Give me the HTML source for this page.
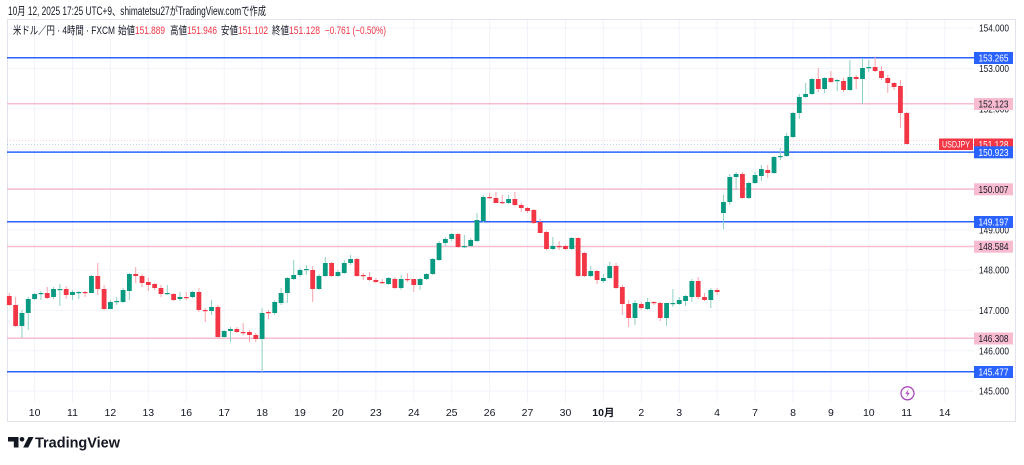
<!DOCTYPE html>
<html>
<head>
<meta charset="utf-8">
<style>
html,body{margin:0;padding:0;background:#fff;}
svg{display:block;}
text{font-family:"Liberation Sans","Noto Sans CJK JP",sans-serif;}
</style>
</head>
<body>
<svg id="c" width="1024" height="465" viewBox="0 0 1024 465" xmlns="http://www.w3.org/2000/svg">
<rect x="0" y="0" width="1024" height="465" fill="#ffffff"/>
<!-- header -->
<text x="8" y="15" font-size="11.5" fill="#131722" textLength="258" lengthAdjust="spacingAndGlyphs">10月 12, 2025 17:25 UTC+9、shimatetsu27がTradingView.comで作成</text>
<!-- frame -->
<rect x="7.5" y="19.5" width="1008" height="402" fill="none" stroke="#e0e3eb" stroke-width="1"/>
<g id="grid" stroke="#f0f3fa" stroke-width="1"></g>
<!-- legend -->
<g font-size="11">
<text x="13" y="34" fill="#131722" textLength="102" lengthAdjust="spacingAndGlyphs">米ドル／円 · 4時間 · FXCM</text>
<text x="118" y="34" fill="#131722" textLength="17" lengthAdjust="spacingAndGlyphs">始値</text>
<text x="135" y="34" fill="#f23645" textLength="30" lengthAdjust="spacingAndGlyphs">151.889</text>
<text x="170" y="34" fill="#131722" textLength="17" lengthAdjust="spacingAndGlyphs">高値</text>
<text x="187" y="34" fill="#f23645" textLength="30" lengthAdjust="spacingAndGlyphs">151.946</text>
<text x="221" y="34" fill="#131722" textLength="17" lengthAdjust="spacingAndGlyphs">安値</text>
<text x="238" y="34" fill="#f23645" textLength="30" lengthAdjust="spacingAndGlyphs">151.102</text>
<text x="272" y="34" fill="#131722" textLength="17" lengthAdjust="spacingAndGlyphs">終値</text>
<text x="289" y="34" fill="#f23645" textLength="31" lengthAdjust="spacingAndGlyphs">151.128</text>
<text x="325" y="34" fill="#f23645" textLength="61" lengthAdjust="spacingAndGlyphs">−0.761 (−0.50%)</text>
</g>
<!-- price axis labels -->
<g font-size="10.2" fill="#131722" text-anchor="middle">
<text x="994" y="31.7" textLength="30" lengthAdjust="spacingAndGlyphs">154.000</text>
<text x="994" y="72.2" textLength="30" lengthAdjust="spacingAndGlyphs">153.000</text>
<text x="994" y="112.5" textLength="30" lengthAdjust="spacingAndGlyphs">152.000</text>
<text x="994" y="152.7" textLength="30" lengthAdjust="spacingAndGlyphs">151.000</text>
<text x="994" y="193.1" textLength="30" lengthAdjust="spacingAndGlyphs">150.000</text>
<text x="994" y="233.4" textLength="30" lengthAdjust="spacingAndGlyphs">149.000</text>
<text x="994" y="273.7" textLength="30" lengthAdjust="spacingAndGlyphs">148.000</text>
<text x="994" y="314" textLength="30" lengthAdjust="spacingAndGlyphs">147.000</text>
<text x="994" y="354.4" textLength="30" lengthAdjust="spacingAndGlyphs">146.000</text>
<text x="994" y="394.7" textLength="30" lengthAdjust="spacingAndGlyphs">145.000</text>
</g>
<!-- time axis labels -->
<g font-size="10.5" fill="#131722" text-anchor="middle">
<text x="34.6" y="416">10</text>
<text x="72.5" y="416">11</text>
<text x="110.4" y="416">12</text>
<text x="148.3" y="416">13</text>
<text x="186.3" y="416">16</text>
<text x="224.2" y="416">17</text>
<text x="262.1" y="416">18</text>
<text x="300.0" y="416">19</text>
<text x="337.9" y="416">20</text>
<text x="375.9" y="416">23</text>
<text x="413.8" y="416">24</text>
<text x="451.7" y="416">25</text>
<text x="489.6" y="416">26</text>
<text x="527.5" y="416">27</text>
<text x="565.5" y="416">30</text>
<text x="603.4" y="416" font-weight="bold">10月</text>
<text x="641.3" y="416">2</text>
<text x="679.2" y="416">3</text>
<text x="717.1" y="416">4</text>
<text x="755.1" y="416">7</text>
<text x="793.0" y="416">8</text>
<text x="830.9" y="416">9</text>
<text x="868.8" y="416">10</text>
<text x="906.7" y="416">11</text>
<text x="944.7" y="416">14</text>
</g>
<!-- horizontal level lines -->
<g stroke-width="1.5">
<line x1="7" y1="57.7" x2="974" y2="57.7" stroke="#2962ff"/>
<line x1="7" y1="103.7" x2="974" y2="103.7" stroke="#f8bbd0"/>
<line x1="7" y1="152.1" x2="974" y2="152.1" stroke="#2962ff"/>
<line x1="7" y1="189.1" x2="974" y2="189.1" stroke="#f8bbd0"/>
<line x1="7" y1="221.8" x2="974" y2="221.8" stroke="#2962ff"/>
<line x1="7" y1="246.5" x2="974" y2="246.5" stroke="#f8bbd0"/>
<line x1="7" y1="338.3" x2="974" y2="338.3" stroke="#f8bbd0"/>
<line x1="7" y1="371.8" x2="974" y2="371.8" stroke="#2962ff"/>
</g>
<line x1="7" y1="140.5" x2="939" y2="140.5" stroke="#f7a1ad" stroke-width="1" stroke-dasharray="1,2" opacity="0.5"/>
<line x1="7" y1="144.5" x2="974" y2="144.5" stroke="#8fa8f5" stroke-width="1" stroke-dasharray="1,2" opacity="0.5"/>
<g id="candles"></g>
<!-- price boxes -->
<g font-size="10.2" text-anchor="middle">
<rect x="974" y="52" width="39" height="12" fill="#2962ff"/><text x="993.5" y="61.5" fill="#fff" textLength="30" lengthAdjust="spacingAndGlyphs">153.265</text>
<rect x="974" y="98" width="39" height="12" fill="#f8bbd0"/><text x="993.5" y="107.5" fill="#131722" textLength="30" lengthAdjust="spacingAndGlyphs">152.123</text>
<rect x="939" y="138.5" width="34" height="11.5" fill="#f23645"/><text x="956" y="147.5" fill="#fff" font-size="9" textLength="28" lengthAdjust="spacingAndGlyphs">USDJPY</text>
<rect x="974" y="138.5" width="39" height="11.5" fill="#f23645"/><text x="993.5" y="147.8" fill="#fff" textLength="30" lengthAdjust="spacingAndGlyphs">151.128</text>
<rect x="974" y="146.3" width="39" height="12" fill="#2962ff"/><text x="993.5" y="155.8" fill="#fff" textLength="30" lengthAdjust="spacingAndGlyphs">150.923</text>
<rect x="974" y="183.3" width="39" height="12" fill="#f8bbd0"/><text x="993.5" y="192.8" fill="#131722" textLength="30" lengthAdjust="spacingAndGlyphs">150.007</text>
<rect x="974" y="216" width="39" height="12" fill="#2962ff"/><text x="993.5" y="225.5" fill="#fff" textLength="30" lengthAdjust="spacingAndGlyphs">149.197</text>
<rect x="974" y="240.7" width="39" height="12" fill="#f8bbd0"/><text x="993.5" y="250.2" fill="#131722" textLength="30" lengthAdjust="spacingAndGlyphs">148.584</text>
<rect x="974" y="332.5" width="39" height="12" fill="#f8bbd0"/><text x="993.5" y="342" fill="#131722" textLength="30" lengthAdjust="spacingAndGlyphs">146.308</text>
<rect x="974" y="366" width="39" height="12" fill="#2962ff"/><text x="993.5" y="375.5" fill="#fff" textLength="30" lengthAdjust="spacingAndGlyphs">145.477</text>
</g>
<!-- lightning icon -->
<circle cx="907.5" cy="393.3" r="6.5" fill="#fff" stroke="#ab47bc" stroke-width="1.3"/>
<path d="M908.8 389 L905.2 393.8 L907.6 393.8 L906.2 397.6 L909.8 392.8 L907.4 392.8 Z" fill="#ab47bc"/>
<!-- TradingView logo -->
<g fill="#131722">
<path d="M8 437 H18.5 V447.5 H13.8 V441.5 H8 Z"/>
<circle cx="22" cy="439.3" r="2.3"/>
<path d="M28.5 437 H33.5 L28.2 447.5 H23.2 Z"/>
</g>
<text x="35" y="447.5" font-size="14.5" font-weight="bold" fill="#131722" textLength="85" lengthAdjust="spacingAndGlyphs">TradingView</text>
</svg>
<script>
(function(){
var NS="http://www.w3.org/2000/svg";
var grid=document.getElementById("grid");
function ln(p,x1,y1,x2,y2){var l=document.createElementNS(NS,"line");l.setAttribute("x1",x1);l.setAttribute("y1",y1);l.setAttribute("x2",x2);l.setAttribute("y2",y2);p.appendChild(l);return l;}
for(var k=0;k<25;k++){var x=(34.58+37.92*k).toFixed(1);ln(grid,x,20,x,402);}
var hy=[28,68.4,108.7,149,189.4,229.7,270,310.3,350.7,391];
hy.forEach(function(y){ln(grid,8,y,974,y);});
var d=[
"r,296,305,293,306","r,305,326,297,327","g,313,326,310,338","g,299,313,297,330","g,294,299,293,300",
"g,293,294,291,300","r,293,298,287,299","g,289,297,287,299","g,289,290,284,306","r,289,295,286,299",
"g,292,295,290,300","g,292,293,291,299","r,292,293,291,297","g,276,293,275,293","r,276,289,263,295",
"r,289,309,285,310","g,302,309,300,309","g,301,302,297,305","g,290,302,288,303","g,274,291,273,300",
"r,274,276,267,283","r,276,283,274,287","r,282,285,278,291","r,284,288,283,290","r,288,294,285,297",
"g,293,294,285,295","r,294,300,293,301","g,297,299,292,301","r,297,298,292,300","g,292,297,291,298",
"r,292,310,288,312","r,310,311,308,322","g,307,311,300,315","r,307,337,305,338","g,331,337,330,338",
"g,329,331,327,342","r,329,332,327,333","r,332,333,323,335","r,332,335,330,342","r,335,339,333,342",
"g,313,339,308,372","r,312,313,310,319","g,302,313,300,315","g,293,303,288,305","g,278,293,277,303",
"g,275,279,260,280","g,270,275,268,277","g,269,270,265,275","r,270,289,266,302","g,276,289,274,290",
"g,263,276,257,277","r,263,276,262,277","g,272,276,270,277","g,263,273,260,274","g,259,263,255,265",
"r,259,276,258,277","r,275,276,273,280","r,277,280,272,281","r,280,282,278,283","r,282,283,279,284",
"g,278,284,277,285","r,279,288,277,289","g,279,288,275,290","r,279,280,273,282","r,279,285,279,292",
"g,279,285,278,290","g,274,279,273,280","g,259,274,258,275","g,243,260,241,261","g,239,243,237,246",
"g,234,239,233,241","r,234,247,233,248","g,246,247,235,248","g,240,246,238,247","g,220,241,213,242",
"g,197,221,195,223","r,197,198,193,199","r,198,203,192,203","r,202,203,195,204","g,199,203,195,204",
"r,199,205,192,206","r,205,208,203,212","r,208,211,207,213","r,210,223,209,224","r,222,233,219,233",
"r,232,249,231,250","g,246,249,237,250","r,246,247,241,250","r,246,249,245,250","g,238,249,237,250",
"r,238,276,237,277","r,253,276,252,277","g,271,276,266,277","r,271,280,270,284","g,278,281,274,283",
"g,266,278,262,279","r,266,288,263,289","r,287,304,285,315","r,304,318,300,327","g,303,318,300,325",
"r,304,308,302,310","g,302,309,298,310","r,302,303,301,305","r,303,318,302,321","g,303,318,303,326",
"g,303,304,289,307","g,300,304,297,305","g,296,301,295,306","g,281,297,279,302","r,281,297,277,299",
"r,297,300,293,301","g,290,300,288,308","r,290,292,288,295","g,202,213,195,229","g,177,202,174,205",
"g,174,177,172,190","r,174,198,172,199","g,183,198,182,199","g,175,183,172,184","g,169,176,165,181",
"r,170,173,165,178","g,157,173,156,174","g,156,157,148,160","g,136,156,133,157","g,113,137,112,138",
"g,97,113,94,119","g,94,97,83,98","g,79,94,78,95","r,79,89,68,92","g,78,89,77,93",
"r,78,82,71,83","g,80,81,79,91","r,81,90,78,92","g,77,90,60,91","r,77,79,75,89",
"g,68,79,58,104","g,67,68,60,72","r,67,71,57,72","r,71,78,66,80","r,78,83,75,93",
"r,83,87,82,90","r,86,113,80,128","r,113,144,112,144"
];
var g=document.getElementById("candles");
d.forEach(function(s,i){
 var a=s.split(","),c=a[0]=="g",bt=+a[1],bb=+a[2],wt=+a[3],wb=+a[4];
 var x=9.3+i*6.32;
 var w=ln(g,x.toFixed(2),wt,x.toFixed(2),wb);
 w.setAttribute("stroke",c?"#8fd0c4":"#f7a3ab");w.setAttribute("stroke-width","1");
 var r=document.createElementNS(NS,"rect");
 var h=Math.max(bb-bt,1.2);
 r.setAttribute("x",(x-2.4).toFixed(2));r.setAttribute("y",bt);r.setAttribute("width","4.8");r.setAttribute("height",h);
 r.setAttribute("fill",c?"#089981":"#f23645");
 g.appendChild(r);
});
})();
</script>
</body>
</html>
